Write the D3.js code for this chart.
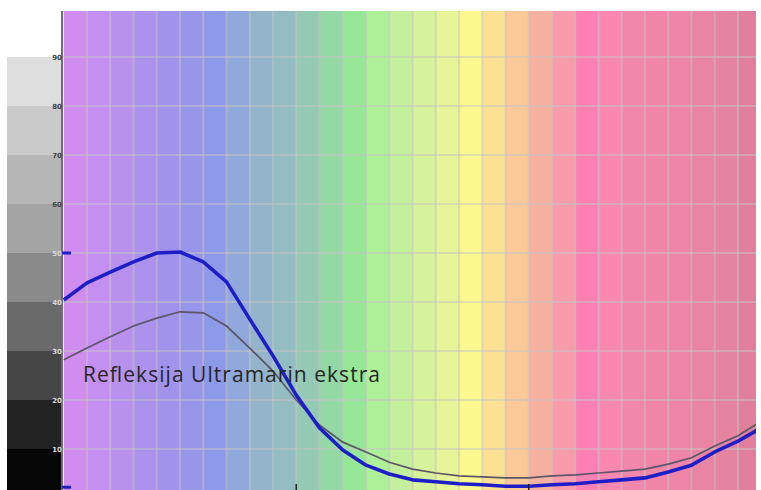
<!DOCTYPE html>
<html>
<head>
<meta charset="utf-8">
<script src="https://cdn.jsdelivr.net/npm/d3@7"></script>
<style>
  body { margin: 0; background: #fff; }
  svg { display: block; }
</style>
</head>
<body>
<svg id="chart" width="761" height="490"></svg>
<script>
// wavelengths (nm), one reading every 10 nm
var wavelengths = [400,410,420,430,440,450,460,470,480,490,500,510,520,530,540,550,
                   560,570,580,590,600,610,620,630,640,650,660,670,680,690,700];
// reflectance, thick blue curve
var blueValues = [40.4,43.9,46.1,48.2,50.0,50.2,48.2,44.1,36.5,29.0,21.0,14.3,9.8,6.7,4.9,3.7,
                  3.3,2.9,2.7,2.4,2.4,2.7,2.9,3.3,3.7,4.1,5.3,6.7,9.4,11.6,14.3];
// reflectance, thin grey curve
var greyValues = [28.2,30.6,32.9,35.1,36.7,38.0,37.8,35.1,30.6,25.9,20.0,14.9,11.4,9.4,7.3,5.9,
                  5.1,4.5,4.3,4.1,4.1,4.5,4.7,5.1,5.5,5.9,6.9,8.2,10.6,12.7,15.7];
// spectrum column colours, one per 10 nm band
var bandColors = ["#d08cee","#c48ff0","#b890ee","#ac91ed","#a193ec","#9896ea","#8d99e9","#90a8dc",
                  "#94b4cc","#94bdc2","#94c9b4","#94d8a6","#96e898","#aef098","#c4f09c","#d6f29a",
                  "#e8f498","#fcf890","#fce094","#fbc898","#f8b0a0","#f89cac","#fc80b4","#f888b0",
                  "#f287ac","#f085a8","#ee85a8","#ea84a4","#e584a1","#e0809c"];
// grey scale steps on the left, one per 10 units (0-10 ... 80-90)
var greySteps = ["#060606","#222222","#464646","#6a6a6a","#8a8a8a","#a4a4a4","#b6b6b6","#cacaca","#dedede"];
var yTicks = [10,20,30,40,50,60,70,80,90];
var xTicks = [500,600];
var markValues = [50, 2.2];
var title = "Refleksija Ultramarin ekstra";

var svg = d3.select("#chart");

var x = d3.scaleLinear().domain([400, 700]).range([63.75, 761.25]);
var y = d3.scaleLinear().domain([0, 100]).range([498, 8]);

var plotTop = 11, plotBottom = 490, plotLeft = 62, plotRight = 756;

svg.append("clipPath").attr("id", "plotclip")
  .append("rect")
    .attr("x", plotLeft).attr("y", plotTop)
    .attr("width", plotRight - plotLeft).attr("height", plotBottom - plotTop);

// grey scale on the left
svg.append("g")
  .selectAll("rect")
  .data(greySteps)
  .enter()
  .append("rect")
    .attr("x", 7)
    .attr("width", plotLeft - 7)
    .attr("y", function(d, i) { return y((i + 1) * 10); })
    .attr("height", function(d, i) { return Math.min(plotBottom, y(i * 10)) - y((i + 1) * 10); })
    .attr("fill", function(d) { return d; });

var plot = svg.append("g").attr("clip-path", "url(#plotclip)");

// spectrum background
plot.append("g")
  .selectAll("rect")
  .data(bandColors)
  .enter()
  .append("rect")
    .attr("x", function(d, i) { return x(400 + i * 10); })
    .attr("width", x(410) - x(400) + 0.5)
    .attr("y", plotTop)
    .attr("height", plotBottom - plotTop)
    .attr("fill", function(d) { return d; });

// grid
plot.append("g")
  .selectAll("line")
  .data(wavelengths.slice(1))
  .enter()
  .append("line")
    .attr("x1", function(d) { return x(d); })
    .attr("x2", function(d) { return x(d); })
    .attr("y1", plotTop).attr("y2", plotBottom)
    .attr("stroke", "#c4c4c4").attr("stroke-opacity", 0.5).attr("stroke-width", 2);

plot.append("g")
  .selectAll("line")
  .data(yTicks)
  .enter()
  .append("line")
    .attr("x1", plotLeft).attr("x2", plotRight)
    .attr("y1", function(d) { return y(d); })
    .attr("y2", function(d) { return y(d); })
    .attr("stroke", "#c4c4c4").attr("stroke-opacity", 0.5).attr("stroke-width", 2);

// curves
var line = d3.line()
  .x(function(d) { return x(d[0]); })
  .y(function(d) { return y(d[1]); });

plot.append("path")
  .datum(d3.zip(wavelengths, greyValues))
  .attr("d", line)
  .attr("fill", "none")
  .attr("stroke", "#5c5668")
  .attr("stroke-width", 1.7);

plot.append("path")
  .datum(d3.zip(wavelengths, blueValues))
  .attr("d", line)
  .attr("fill", "none")
  .attr("stroke", "#1e1ec8")
  .attr("stroke-width", 3.6)
  .attr("stroke-linejoin", "round");

// left axis line
svg.append("line")
  .attr("x1", plotLeft).attr("x2", plotLeft)
  .attr("y1", plotTop).attr("y2", plotBottom)
  .attr("stroke", "#6e6e6e").attr("stroke-width", 2);

// tiny scale labels
svg.append("g")
  .selectAll("text")
  .data(yTicks)
  .enter()
  .append("text")
    .attr("x", plotLeft)
    .attr("y", function(d) { return y(d) + 2.5; })
    .attr("text-anchor", "end")
    .attr("font-family", "DejaVu Sans, sans-serif")
    .attr("font-weight", "bold")
    .attr("font-size", 7)
    .attr("fill", function(d) { return d >= 60 ? "#444" : "#d8d8d8"; })
    .text(function(d) { return d; });

// blue marks on the axis
svg.append("g")
  .selectAll("line")
  .data(markValues)
  .enter()
  .append("line")
    .attr("x1", plotLeft).attr("x2", plotLeft + 9)
    .attr("y1", function(d) { return y(d); })
    .attr("y2", function(d) { return y(d); })
    .attr("stroke", "#2020c0").attr("stroke-width", 3);

// bottom ticks
svg.append("g")
  .selectAll("line")
  .data(xTicks)
  .enter()
  .append("line")
    .attr("x1", function(d) { return x(d); })
    .attr("x2", function(d) { return x(d); })
    .attr("y1", plotBottom - 6).attr("y2", plotBottom)
    .attr("stroke", "#222").attr("stroke-width", 1.5);

// label
svg.append("text")
  .attr("x", 83)
  .attr("y", 382)
  .attr("font-family", "Open Sans, Lato, sans-serif")
  .attr("font-weight", 400)
  .attr("font-size", 21)
  .attr("fill", "#262626")
  .attr("textLength", 297)
  .attr("lengthAdjust", "spacing")
  .text(title);
</script>
</body>
</html>
